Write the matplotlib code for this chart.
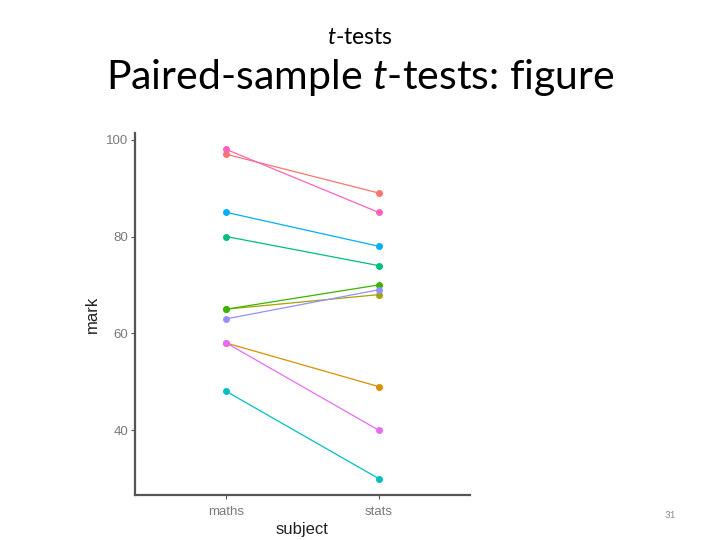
import matplotlib
matplotlib.use('Agg')
import matplotlib.pyplot as plt

# paired marks for 10 subjects, maths vs stats
subjects = ['maths', 'stats']
maths = [97, 58, 65, 65, 80, 48, 85, 63, 58, 98]
stats = [89, 49, 68, 70, 74, 30, 78, 69, 40, 85]
# ggplot default hue palette for 10 groups
colours = ['#F8766D', '#D89000', '#A3A500', '#39B600', '#00BF7D',
           '#00BFC4', '#00B0F6', '#9590FF', '#E76BF3', '#FF62BC']
yticks = [40, 60, 80, 100]

plt.rcParams['font.family'] = ['Lato', 'DejaVu Sans']
plt.rcParams['mathtext.fontset'] = 'custom'
plt.rcParams['mathtext.rm'] = 'Lato'
plt.rcParams['mathtext.it'] = 'Lato:italic'

fig = plt.figure(figsize=(7.2, 5.4), dpi=100)

# slide titles
fig.text(0.5, 1 - 37 / 540, r'$t$-tests', ha='center', va='center', fontsize=16.5)
fig.text(0.5, 1 - 78 / 540, r'Paired-sample $t$-tests: figure', ha='center', va='center',
         fontsize=29.5)
fig.text(670 / 720, 1 - 515 / 540, '31', ha='center', va='center', fontsize=7, color='#8c8c8c')

ax = fig.add_axes([135 / 720, 1 - 495 / 540, 335 / 720, 362 / 540])
xpos = [1, 2]
for m, s, c in zip(maths, stats, colours):
    ax.plot(xpos, [m, s], color=c, lw=0.9, marker='o', ms=4, mec=c, mfc=c)

plot_font = ['Liberation Sans', 'DejaVu Sans']
ax.set_xlim(0.4, 2.6)
ax.set_ylim(26.6, 101.4)
ax.set_xticks(xpos)
ax.set_xticklabels(subjects, family=plot_font)
ax.set_yticks(yticks)
ax.set_yticklabels([str(v) for v in yticks], family=plot_font)
ax.tick_params(labelsize=9.5, labelcolor='#7a7a7a', color='#555555', length=3, width=0.8, pad=2)
ax.tick_params(axis='x', pad=5)
for side in ['top', 'right']:
    ax.spines[side].set_visible(False)
for side in ['left', 'bottom']:
    ax.spines[side].set_color('#555555')
    ax.spines[side].set_linewidth(1.6)
ax.set_xlabel('subject', fontsize=12, labelpad=3, family=plot_font, color='#222222')
ax.set_ylabel('mark', fontsize=12, labelpad=4, family=plot_font, color='#222222')

fig.savefig('out.png', dpi=100)
